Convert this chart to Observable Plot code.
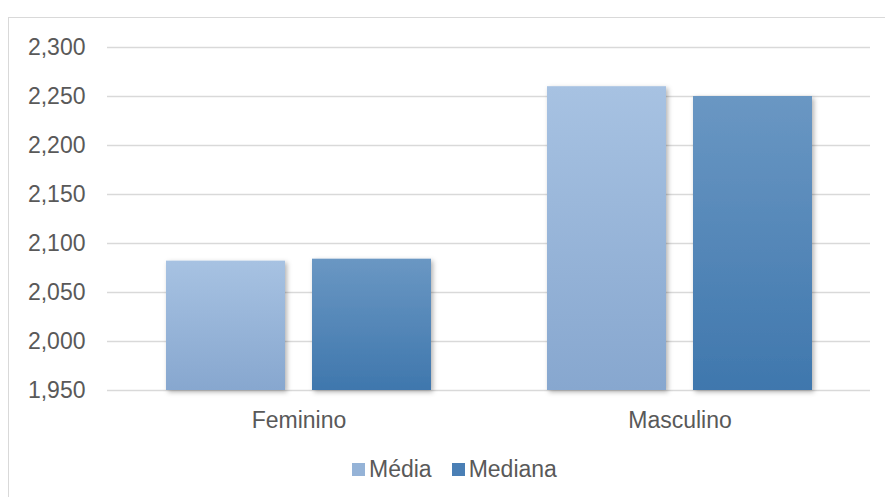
<!DOCTYPE html>
<html>
<head>
<meta charset="utf-8">
<script src="https://cdn.jsdelivr.net/npm/d3@7"></script>
<script src="https://cdn.jsdelivr.net/npm/@observablehq/plot@0.6"></script>
<style>
  html, body { margin: 0; padding: 0; background: #fff; }
  body { width: 885px; height: 497px; overflow: hidden; position: relative; font-family: "Liberation Sans", Arial, sans-serif; }
  #frame { position: absolute; left: 8px; top: 17px; width: 880px; height: 490px; border: 1px solid #d9d9d9; box-sizing: border-box; }
  #chart { position: absolute; left: 0; top: 0; }
  #legend { position: absolute; left: 343px; top: 438px; display: flex; align-items: center; font-size: 23px; color: #595959; }
  .item { display: flex; align-items: center; margin-right: 20px; }
  .sw { width: 13px; height: 13px; margin-right: 4px; }
</style>
</head>
<body>
<div id="frame">
  <div id="chart"></div>
  <div id="legend"></div>
</div>
<script>
const categories = ["Feminino", "Masculino"];
const series = ["Média", "Mediana"];
const mediaValues = [2082, 2260];
const medianaValues = [2084, 2250];
const yTicks = [1950, 2000, 2050, 2100, 2150, 2200, 2250, 2300];

const mediaData = categories.map((c, i) => ({sexo: c, serie: series[0], value: mediaValues[i]}));
const medianaData = categories.map((c, i) => ({sexo: c, serie: series[1], value: medianaValues[i]}));

const yMin = yTicks[0];
// group band = 265px; each bar 119px, gap 27px
const half = 146;

const chart = Plot.plot({
  width: 870,
  height: 420,
  marginLeft: 98,
  marginRight: 9,
  marginTop: 29,
  marginBottom: 48,
  style: {fontFamily: '"Liberation Sans", Arial, sans-serif', fontSize: "23px", color: "#595959", background: "transparent", overflow: "visible"},
  x: {domain: categories, paddingInner: 0.305, paddingOuter: 0.1527, label: null, tickSize: 0, tickPadding: 21},
  y: {domain: [yTicks[0], yTicks[yTicks.length - 1]], ticks: yTicks, tickFormat: d3.format(","), tickSize: 0, tickPadding: 22, label: null},
  marks: [
    Plot.ruleY(yTicks, {stroke: "#d9d9d9", strokeWidth: 1.5}),
    Plot.barY(mediaData, {x: "sexo", y1: yMin, y2: "value", fill: "url(#gMedia)", insetRight: half}),
    Plot.barY(medianaData, {x: "sexo", y1: yMin, y2: "value", fill: "url(#gMediana)", insetLeft: half})
  ]
});

const svg = d3.select(chart);
const defs = svg.insert("defs", ":first-child");
function grad(id, top, bottom) {
  const g = defs.append("linearGradient").attr("id", id).attr("x1", 0).attr("y1", 0).attr("x2", 0).attr("y2", 1);
  g.append("stop").attr("offset", "0%").attr("stop-color", top);
  g.append("stop").attr("offset", "100%").attr("stop-color", bottom);
}
grad("gMedia", "#a7c2e2", "#87a7cf");
grad("gMediana", "#6a97c3", "#3f77ad");
const f = defs.append("filter").attr("id", "shadow").attr("x", "-10%").attr("y", "-10%").attr("width", "130%").attr("height", "130%");
f.append("feDropShadow").attr("dx", 2).attr("dy", 2).attr("stdDeviation", 2.5).attr("flood-color", "#000").attr("flood-opacity", 0.3);
svg.selectAll("rect").filter(function() { return this.getAttribute("fill") && this.getAttribute("fill").startsWith("url"); }).attr("filter", "url(#shadow)");
svg.selectAll("g").filter(function() { const f = this.getAttribute("fill"); return f && f.startsWith("url"); }).attr("filter", "url(#shadow)");

document.getElementById("chart").appendChild(chart);

const legendColors = ["#95b3d7", "#4a7fb5"];
const legend = d3.select("#legend");
series.forEach((s, i) => {
  const it = legend.append("div").attr("class", "item");
  it.append("div").attr("class", "sw").style("background", legendColors[i]);
  it.append("span").text(s);
});
</script>
</body>
</html>
